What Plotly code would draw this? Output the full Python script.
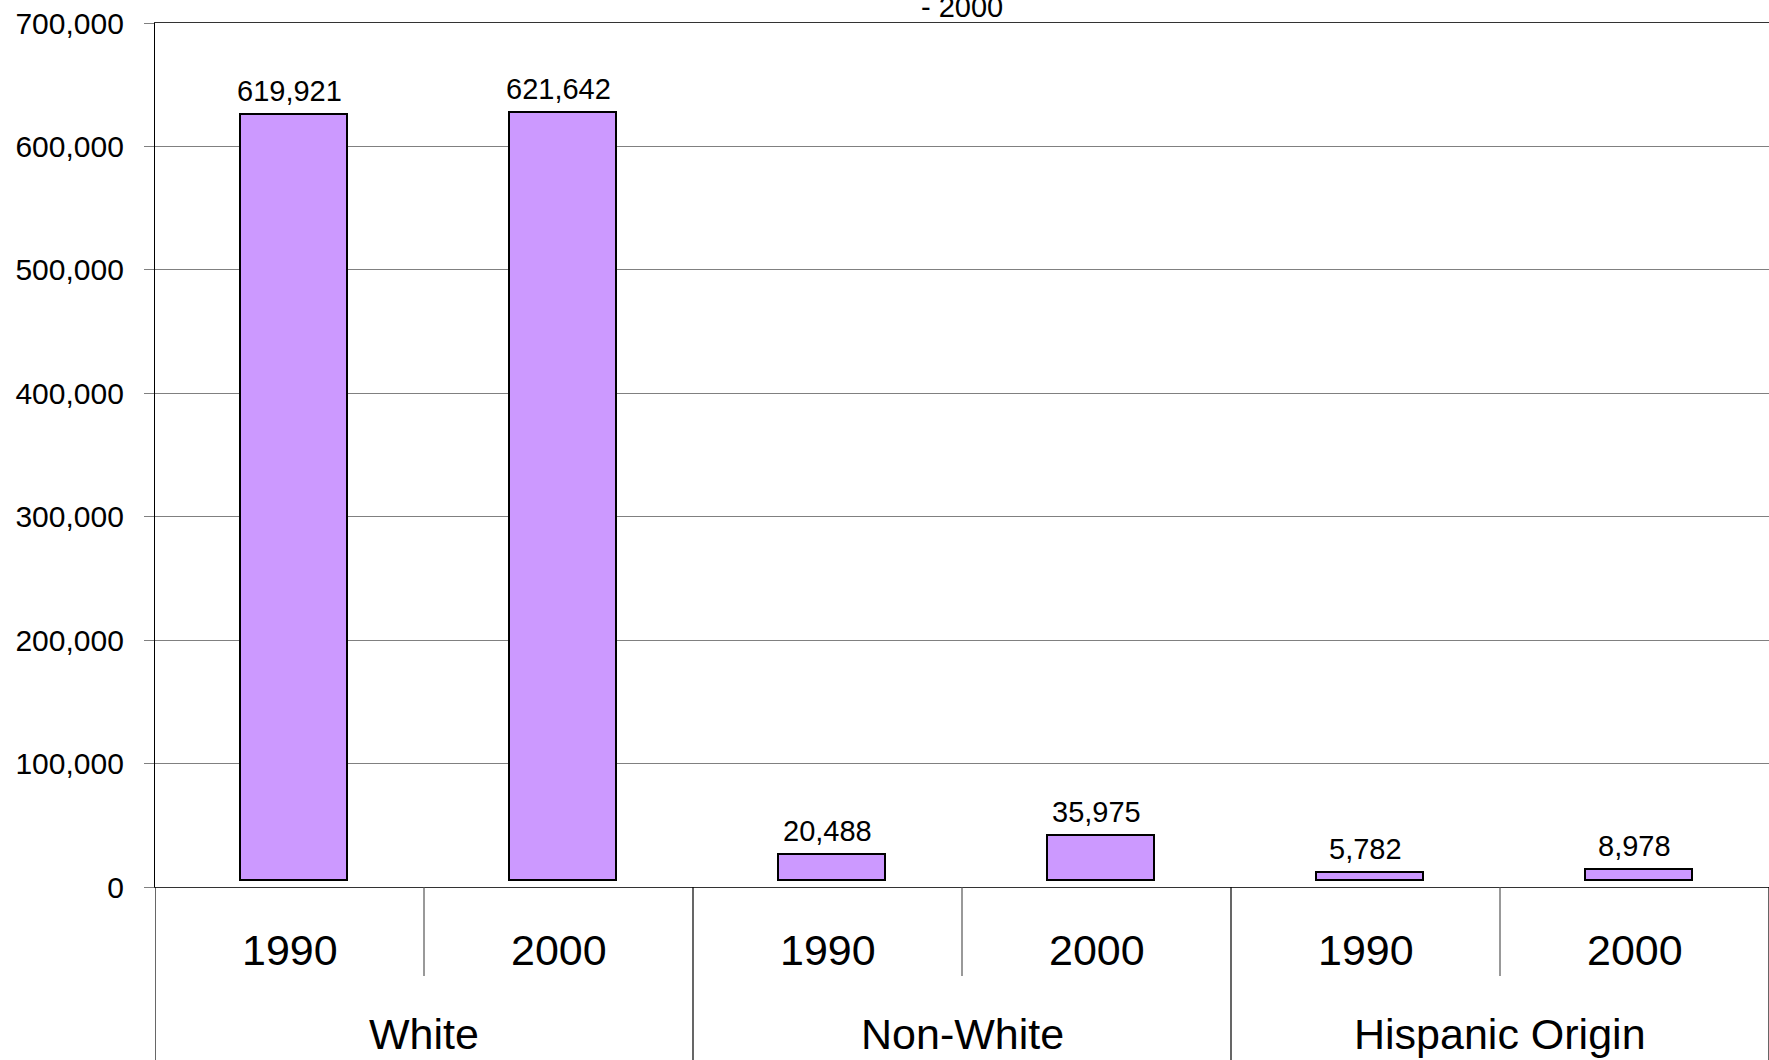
import plotly.graph_objects as go

# ---- data ----
groups = ["White", "White", "Non-White", "Non-White", "Hispanic Origin", "Hispanic Origin"]
years = ["1990", "2000", "1990", "2000", "1990", "2000"]
values = [619921, 621642, 20488, 35975, 5782, 8978]
group_names = ["White", "Non-White", "Hispanic Origin"]
title_text = "- 2000"

# ---- style constants ----
W, H = 1769, 1060
ML, MR, MT, MB = 155, 0, 23, 173
PLOT_H = H - MT - MB
BAR_BASE = 6000          # bars float slightly above the zero line in the original
BAR_WIDTH = 0.4
BAR_OFFSET = -0.185
FONT = "Liberation Sans, Arial, sans-serif"

idx = list(range(len(values)))

fig = go.Figure()
fig.add_trace(go.Bar(
    x=idx, y=values, base=BAR_BASE,
    width=BAR_WIDTH, offset=BAR_OFFSET,
    marker=dict(color="#CC99FF", line=dict(color="black", width=2)),
    showlegend=False, hoverinfo="y",
))

bottom_paper = -MB / PLOT_H
shapes = []
n_per_group = 2
# inner dividers (between years within a group)
for g in range(len(group_names)):
    b = g * n_per_group + 0.5
    shapes.append(dict(type="line", xref="x", yref="paper", x0=b, x1=b,
                       y0=0, y1=-89 / PLOT_H, line=dict(color="#555555", width=1.2)))
# group dividers (including the left edge)
for g in range(len(group_names) + 1):
    b = g * n_per_group - 0.5
    shapes.append(dict(type="line", xref="x", yref="paper", x0=b, x1=b,
                       y0=0, y1=bottom_paper, line=dict(color="black", width=1.2)))

annotations = []
# value labels above bars
for i, v in zip(idx, values):
    annotations.append(dict(x=i, y=v + BAR_BASE, xref="x", yref="y", text=f"{v:,}",
                            showarrow=False, yanchor="bottom", yshift=5,
                            font=dict(size=29, color="black", family=FONT)))
for i, yr in zip(idx, years):
    annotations.append(dict(x=i, y=0, xref="x", yref="paper", text=yr, showarrow=False,
                            yanchor="middle", yshift=-63,
                            font=dict(size=43, color="black", family=FONT)))
for g, name in enumerate(group_names):
    annotations.append(dict(x=g * n_per_group + (n_per_group - 1) / 2, y=0, xref="x", yref="paper",
                            text=name, showarrow=False, yanchor="middle", yshift=-147,
                            font=dict(size=43, color="black", family=FONT)))
annotations.append(dict(x=0.5, y=1, xref="paper", yref="paper", text=title_text, showarrow=False,
                        yanchor="bottom", yshift=-2,
                        font=dict(size=29, color="black", family=FONT)))

fig.update_layout(
    width=W, height=H,
    margin=dict(l=ML, r=MR, t=MT, b=MB, pad=0),
    paper_bgcolor="white", plot_bgcolor="white",
    font=dict(family=FONT, color="black"),
    shapes=shapes, annotations=annotations,
    bargap=0,
)
fig.update_xaxes(range=[-0.5, len(values) - 0.5], showticklabels=False, ticks="",
                 showgrid=False, zeroline=False, showline=True, linecolor="#333333",
                 linewidth=1.2, mirror=True)
fig.update_yaxes(range=[0, 700000], dtick=100000, tickformat=",",
                 tickfont=dict(size=30, color="black", family=FONT),
                 showgrid=True, gridcolor="#808080", gridwidth=1,
                 showline=True, linecolor="black", linewidth=1.2,
                 ticks="outside", ticklen=10, tickcolor="#808080",
                 ticklabelstandoff=14, ticklabeloverflow="allow", zeroline=False)

fig.write_html("out.html", config={"displayModeBar": False},
               post_script="document.body.style.margin='0';")
